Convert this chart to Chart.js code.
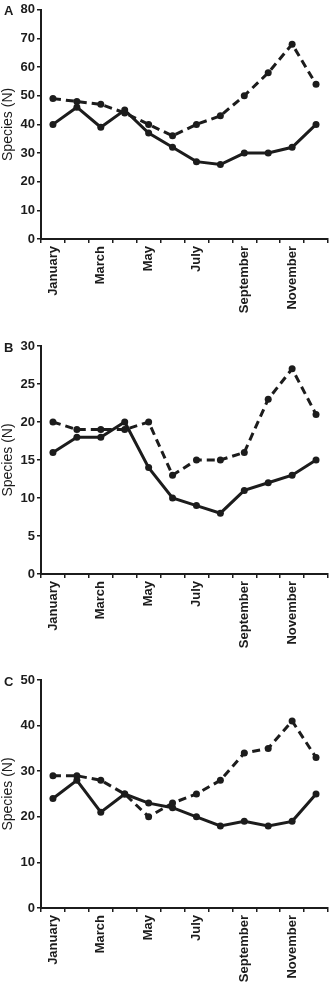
<!DOCTYPE html>
<html>
<head>
<meta charset="utf-8">
<script src="https://cdn.jsdelivr.net/npm/chart.js@4.4.1/dist/chart.umd.min.js"></script>
<style>
  html, body { margin: 0; padding: 0; background: #fff; }
  #wrap { position: relative; width: 332px; height: 985px; }
  .panel { position: absolute; left: 0; width: 332px; }
</style>
</head>
<body>
<div id="wrap">
  <div class="panel" style="top:0;height:325px"><canvas id="chartA"></canvas></div>
  <div class="panel" style="top:325px;height:330px"><canvas id="chartB"></canvas></div>
  <div class="panel" style="top:655px;height:330px"><canvas id="chartC"></canvas></div>
</div>
<script>
const months = ['January', 'February', 'March', 'April', 'May', 'June',
  'July', 'August', 'September', 'October', 'November', 'December'];

// panel A
const solidA = [40, 46, 39, 45, 37, 32, 27, 26, 30, 30, 32, 40];
const dashedA = [49, 48, 47, 44, 40, 36, 40, 43, 50, 58, 68, 54];
// panel B
const solidB = [16, 18, 18, 20, 14, 10, 9, 8, 11, 12, 13, 15];
const dashedB = [20, 19, 19, 19, 20, 13, 15, 15, 16, 23, 27, 21];
// panel C
const solidC = [24, 28, 21, 25, 23, 22, 20, 18, 19, 18, 19, 25];
const dashedC = [29, 29, 28, 25, 20, 23, 25, 28, 34, 35, 41, 33];

const yTitle = 'Species (N)';
const INK = '#1c1c1c';
const FONT = '"Liberation Sans", Arial, sans-serif';

const panelLetter = {
  id: 'panelLetter',
  afterDraw(chart, args, opts) {
    const ctx = chart.ctx;
    ctx.save();
    ctx.fillStyle = INK;
    ctx.font = 'bold 13px ' + FONT;
    ctx.textBaseline = 'middle';
    ctx.textAlign = 'left';
    ctx.fillText(opts.text, 4, chart.chartArea.top + 2);
    ctx.restore();
  }
};

function makeChart(id, letter, solid, dashed, yMax, yStep, padTop, xHeight) {
  const lineStyle = {
    borderColor: INK,
    backgroundColor: INK,
    borderWidth: 3,
    pointRadius: 3.5,
    pointBorderWidth: 0,
    pointBackgroundColor: INK,
    tension: 0,
    fill: false
  };
  new Chart(document.getElementById(id), {
    type: 'line',
    data: {
      labels: months,
      datasets: [
        Object.assign({ label: 'dashed', data: dashed, borderDash: [8, 5] }, lineStyle),
        Object.assign({ label: 'solid', data: solid }, lineStyle)
      ]
    },
    options: {
      responsive: true,
      maintainAspectRatio: false,
      animation: false,
      layout: { padding: { top: padTop, right: 1, left: 0, bottom: 0 } },
      plugins: {
        legend: { display: false },
        tooltip: { enabled: false },
        panelLetter: { text: letter }
      },
      scales: {
        x: {
          offset: true,
          grid: { offset: true, drawOnChartArea: false, drawTicks: true, tickLength: 4, color: INK, lineWidth: 1.5 },
          border: { display: true, color: INK, width: 2 },
          ticks: {
            autoSkip: false,
            minRotation: 90,
            maxRotation: 90,
            padding: 3,
            color: INK,
            font: { family: FONT, size: 13, weight: 'bold' },
            callback: (v, i) => (i % 2 === 0 ? months[i] : '')
          },
          afterFit: s => {
            s.height = xHeight;
            s.paddingLeft = 0;
            s.paddingRight = 0;
          }
        },
        y: {
          min: 0,
          max: yMax,
          grid: { drawOnChartArea: false, drawTicks: true, tickLength: 4, color: INK, lineWidth: 1.5 },
          border: { display: true, color: INK, width: 2 },
          ticks: {
            stepSize: yStep,
            padding: 2,
            color: INK,
            font: { family: FONT, size: 13, weight: 'bold' }
          },
          title: {
            display: true,
            text: yTitle,
            color: INK,
            padding: 0,
            font: { family: FONT, size: 14, weight: 'normal' }
          },
          afterFit: s => { s.width = 41; }
        }
      }
    },
    plugins: [panelLetter]
  });
}

makeChart('chartA', 'A', solidA, dashedA, 80, 10, 7, 86);
makeChart('chartB', 'B', solidB, dashedB, 30, 5, 21, 81);
makeChart('chartC', 'C', solidC, dashedC, 50, 10, 25, 77);
</script>
</body>
</html>
